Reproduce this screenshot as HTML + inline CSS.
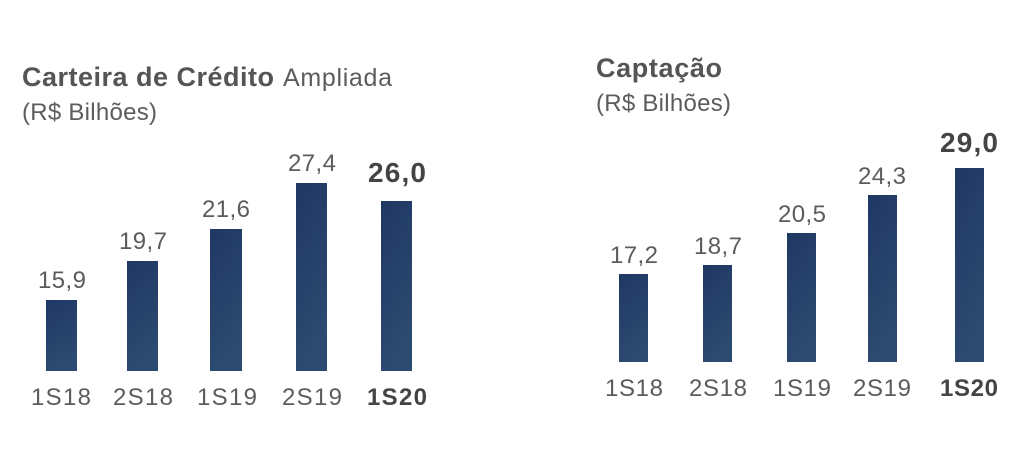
<!DOCTYPE html>
<html><head><meta charset="utf-8"><style>
body{margin:0;width:1024px;height:456px;background:#fff;overflow:hidden;font-family:"Liberation Sans","DejaVu Sans",sans-serif;color:#555;}
svg{position:absolute;left:0;top:0}
</style></head><body>
<svg width="1024" height="456" viewBox="0 0 1024 456">
<defs><linearGradient id="g" x1="0" y1="0" x2="0.3" y2="1"><stop offset="0" stop-color="#1e3864"/><stop offset="1" stop-color="#2d4a70"/></linearGradient></defs>
<g font-family="Liberation Sans, sans-serif" fill="#555">
<text x="22" y="86" font-size="27" font-weight="bold" textLength="252">Carteira de Crédito</text>
<text x="283" y="86" font-size="25" fill="#5c5c5c" textLength="109">Ampliada</text>
<text x="22" y="120" font-size="24" fill="#5c5c5c" textLength="135">(R$ Bilhões)</text>
<text x="596" y="77" font-size="27" font-weight="bold" textLength="126">Captação</text>
<text x="596" y="111" font-size="24" fill="#5c5c5c" textLength="135">(R$ Bilhões)</text>
</g>
<g fill="url(#g)">
<rect x="46" y="300" width="31" height="71"/>
<rect x="127" y="261" width="31" height="110"/>
<rect x="210" y="229" width="32" height="142"/>
<rect x="296" y="183" width="31" height="188"/>
<rect x="381" y="201" width="31" height="170"/>
<rect x="619" y="274" width="29" height="88"/>
<rect x="703" y="265" width="29" height="97"/>
<rect x="787" y="233" width="29" height="129"/>
<rect x="868" y="195" width="29" height="167"/>
<rect x="955" y="168" width="29" height="194"/>
</g>
<g font-family="Liberation Sans, sans-serif" font-size="24" fill="#5c5c5c" text-anchor="middle">
<text x="62" y="288" textLength="48">15,9</text>
<text x="143" y="249" textLength="48">19,7</text>
<text x="226" y="217" textLength="48">21,6</text>
<text x="312" y="171" textLength="48">27,4</text>
<text x="397" y="182" font-weight="bold" font-size="28" fill="#444" textLength="58">26,0</text>
<text x="61" y="405" textLength="60">1S18</text>
<text x="143" y="405" textLength="60">2S18</text>
<text x="227" y="405" textLength="60">1S19</text>
<text x="312" y="405" textLength="60">2S19</text>
<text x="397" y="405" font-weight="bold" fill="#444" textLength="60">1S20</text>
<text x="634" y="263" textLength="48">17,2</text>
<text x="718" y="254" textLength="48">18,7</text>
<text x="802" y="222" textLength="48">20,5</text>
<text x="882" y="184" textLength="48">24,3</text>
<text x="969" y="152" font-weight="bold" font-size="28" fill="#444" textLength="58">29,0</text>
<text x="634" y="396" textLength="58">1S18</text>
<text x="718" y="396" textLength="58">2S18</text>
<text x="802" y="396" textLength="58">1S19</text>
<text x="882" y="396" textLength="58">2S19</text>
<text x="969" y="396" font-weight="bold" fill="#444" textLength="58">1S20</text>
</g>
</svg>
</body></html>
